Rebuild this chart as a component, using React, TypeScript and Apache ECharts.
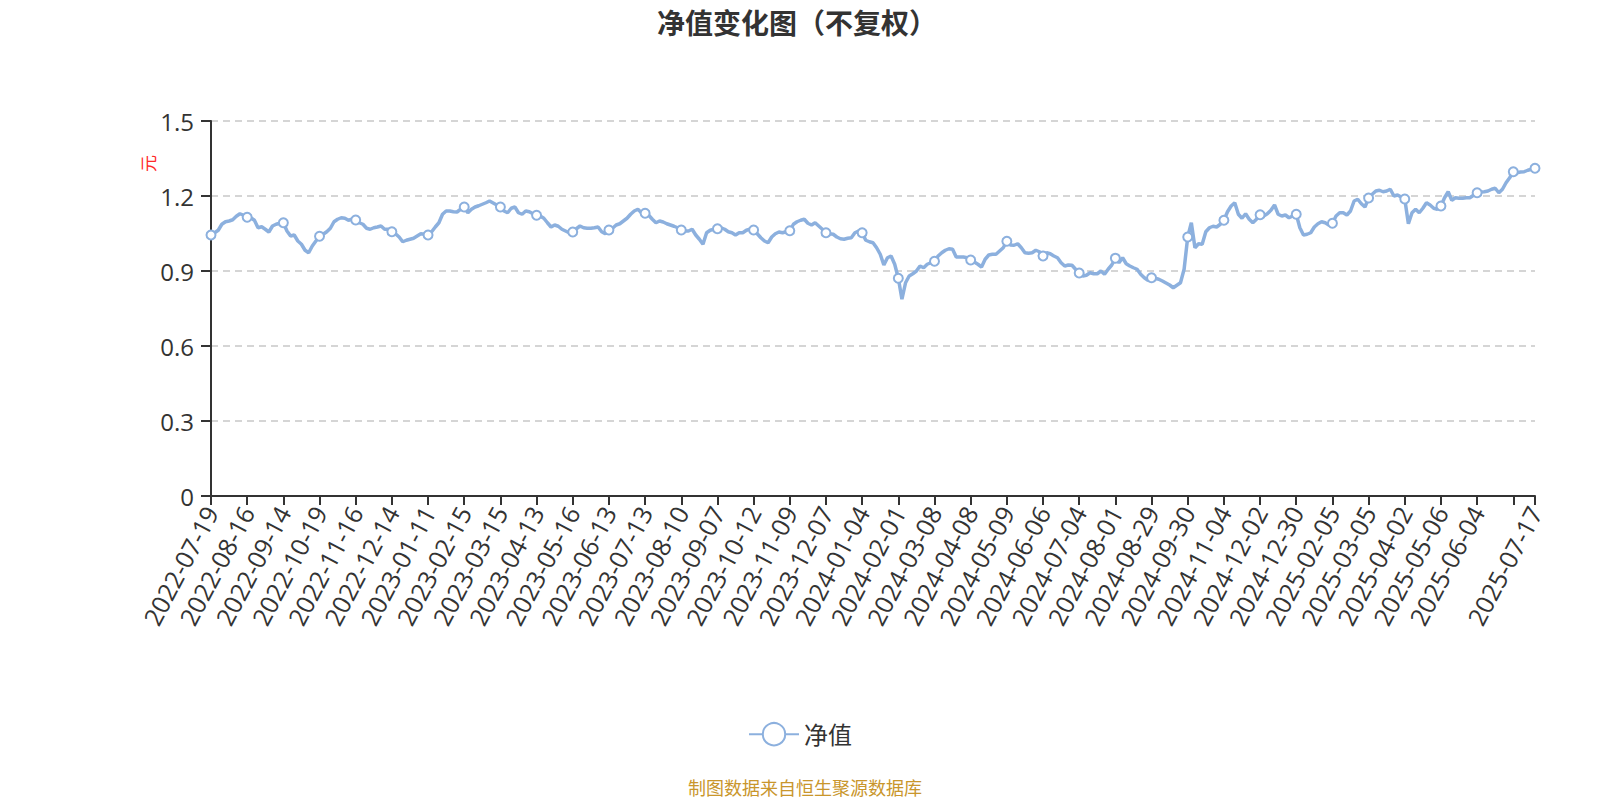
import React, { useEffect, useRef } from "react";
import * as echarts from "echarts";

const dateLabels: string[] = [
  "2022-07-19", "2022-08-16", "2022-09-14", "2022-10-19", "2022-11-16", "2022-12-14",
  "2023-01-11", "2023-02-15", "2023-03-15", "2023-04-13", "2023-05-16", "2023-06-13",
  "2023-07-13", "2023-08-10", "2023-09-07", "2023-10-12", "2023-11-09", "2023-12-07",
  "2024-01-04", "2024-02-01", "2024-03-08", "2024-04-08", "2024-05-09", "2024-06-06",
  "2024-07-04", "2024-08-01", "2024-08-29", "2024-09-30", "2024-11-04", "2024-12-02",
  "2024-12-30", "2025-02-05", "2025-03-05", "2025-04-02", "2025-05-06", "2025-06-04",
];
const lastDate = "2025-07-17";

const netValues: number[] = [
  1.044, 1.053, 1.063, 1.087, 1.097, 1.100, 1.105, 1.119, 1.129, 1.123,
  1.115, 1.113, 1.103, 1.073, 1.077, 1.067, 1.056, 1.080, 1.087, 1.091,
  1.093, 1.060, 1.040, 1.044, 1.020, 1.007, 0.983, 0.973, 1.000, 1.020,
  1.039, 1.047, 1.057, 1.071, 1.097, 1.107, 1.113, 1.111, 1.103, 1.107,
  1.104, 1.093, 1.087, 1.071, 1.067, 1.073, 1.076, 1.080, 1.067, 1.067,
  1.057, 1.049, 1.036, 1.017, 1.023, 1.027, 1.031, 1.040, 1.049, 1.047,
  1.044, 1.057, 1.076, 1.093, 1.127, 1.140, 1.140, 1.137, 1.136, 1.147,
  1.156, 1.133, 1.147, 1.156, 1.161, 1.167, 1.173, 1.180, 1.172, 1.164,
  1.156, 1.140, 1.133, 1.151, 1.156, 1.133, 1.127, 1.140, 1.137, 1.129,
  1.123, 1.120, 1.111, 1.093, 1.076, 1.084, 1.079, 1.067, 1.060, 1.053,
  1.056, 1.069, 1.080, 1.073, 1.071, 1.071, 1.073, 1.076, 1.057, 1.049,
  1.064, 1.071, 1.084, 1.089, 1.100, 1.111, 1.127, 1.140, 1.147, 1.133,
  1.131, 1.123, 1.107, 1.093, 1.100, 1.096, 1.089, 1.084, 1.079, 1.073,
  1.064, 1.060, 1.060, 1.067, 1.044, 1.027, 1.007, 1.053, 1.063, 1.067,
  1.069, 1.073, 1.067, 1.057, 1.053, 1.044, 1.053, 1.053, 1.063, 1.067,
  1.064, 1.049, 1.033, 1.020, 1.013, 1.036, 1.049, 1.056, 1.053, 1.057,
  1.061, 1.087, 1.097, 1.103, 1.107, 1.091, 1.084, 1.093, 1.080, 1.067,
  1.053, 1.049, 1.047, 1.036, 1.029, 1.027, 1.031, 1.033, 1.053, 1.060,
  1.053, 1.023, 1.017, 1.013, 0.993, 0.967, 0.924, 0.953, 0.960, 0.927,
  0.871, 0.787, 0.853, 0.880, 0.889, 0.900, 0.920, 0.913, 0.927, 0.933,
  0.939, 0.960, 0.973, 0.983, 0.989, 0.987, 0.956, 0.956, 0.956, 0.953,
  0.944, 0.936, 0.927, 0.916, 0.947, 0.964, 0.967, 0.967, 0.980, 0.993,
  1.019, 1.004, 1.003, 1.009, 0.993, 0.973, 0.971, 0.973, 0.983, 0.977,
  0.960, 0.973, 0.969, 0.960, 0.953, 0.933, 0.920, 0.924, 0.923, 0.907,
  0.892, 0.880, 0.883, 0.893, 0.889, 0.889, 0.900, 0.887, 0.907, 0.924,
  0.951, 0.933, 0.953, 0.929, 0.920, 0.913, 0.907, 0.887, 0.873, 0.863,
  0.873, 0.871, 0.867, 0.860, 0.852, 0.844, 0.833, 0.843, 0.853, 0.907,
  1.036, 1.093, 0.993, 1.009, 1.007, 1.057, 1.073, 1.079, 1.076, 1.087,
  1.103, 1.137, 1.160, 1.173, 1.127, 1.111, 1.129, 1.107, 1.093, 1.107,
  1.125, 1.120, 1.129, 1.143, 1.164, 1.127, 1.120, 1.124, 1.113, 1.120,
  1.127, 1.073, 1.044, 1.047, 1.053, 1.076, 1.089, 1.097, 1.093, 1.084,
  1.091, 1.120, 1.133, 1.133, 1.124, 1.140, 1.180, 1.187, 1.169, 1.156,
  1.192, 1.207, 1.220, 1.223, 1.217, 1.220, 1.227, 1.200, 1.204, 1.196,
  1.188, 1.089, 1.133, 1.147, 1.133, 1.151, 1.173, 1.164, 1.151, 1.147,
  1.160, 1.193, 1.217, 1.183, 1.193, 1.191, 1.191, 1.193, 1.193, 1.203,
  1.213, 1.216, 1.217, 1.220, 1.227, 1.231, 1.213, 1.227, 1.253, 1.273,
  1.297, 1.293, 1.296, 1.297, 1.303, 1.307, 1.311,
];

const LABEL_STEP = 10;
const FONT = "'Open Sans', 'Noto Sans CJK SC', sans-serif";

export default function App() {
  const ref = useRef<HTMLDivElement>(null);

  useEffect(() => {
    if (!ref.current) return;
    const chart = echarts.init(ref.current, undefined, { renderer: "svg" });
    const last = netValues.length - 1;
    const categories = netValues.map((_, i) => {
      if (i === last) return lastDate;
      if (i % LABEL_STEP === 0 && dateLabels[i / LABEL_STEP]) return dateLabels[i / LABEL_STEP];
      return "d" + i;
    });
    const seriesData = netValues.map((v, i) =>
      i % LABEL_STEP === 0 || i === last ? v : { value: v, symbol: "none" }
    );
    const showLabel = (i: number) =>
      i === last || (i % LABEL_STEP === 0 && i / LABEL_STEP < dateLabels.length);
    const showTick = (i: number) => i % LABEL_STEP === 0 || i === last;

    chart.setOption({
      animation: false,
      textStyle: { fontFamily: FONT },
      title: [
        {
          text: "净值变化图（不复权）",
          left: 792,
          top: 4,
          textAlign: "center",
          textStyle: { fontSize: 28, fontWeight: "bold", color: "#333", fontFamily: FONT },
        },
        {
          text: "制图数据来自恒生聚源数据库",
          left: 800,
          top: 774,
          textAlign: "center",
          textStyle: { fontSize: 18, fontWeight: "normal", color: "#c9962c", fontFamily: FONT },
        },
      ],
      graphic: [
        {
          type: "text",
          x: 140,
          y: 172,
          rotation: Math.PI / 2,
          style: { text: "元", fill: "#ff2a2a", fontSize: 17, fontFamily: FONT },
        },
      ],
      legend: {
        data: ["净值"],
        left: "center",
        top: 717,
        itemWidth: 50,
        itemHeight: 28,
        itemGap: 10,
        textStyle: { fontSize: 24, color: "#333", fontFamily: FONT },
      },
      grid: { left: 211, right: 65, top: 121, bottom: 304, containLabel: false },
      xAxis: {
        type: "category",
        boundaryGap: false,
        data: categories,
        axisLine: { lineStyle: { color: "#333", width: 2 } },
        axisTick: { interval: showTick, length: 9, lineStyle: { color: "#333", width: 2 } },
        axisLabel: {
          interval: showLabel,
          rotate: 62,
          fontSize: 25,
          color: "#333",
          margin: 12,
          fontFamily: FONT,
        },
        splitLine: { show: false },
      },
      yAxis: {
        type: "value",
        min: 0,
        max: 1.5,
        interval: 0.3,
        axisLine: { show: true, lineStyle: { color: "#333", width: 2 } },
        axisTick: { show: true, length: 10, lineStyle: { color: "#333", width: 2 } },
        axisLabel: {
          fontSize: 24,
          color: "#333",
          margin: 17,
          fontFamily: FONT,
          formatter: (v: number) => (v === 0 ? "0" : v.toFixed(1)),
        },
        splitLine: { show: true, lineStyle: { color: "#c8c8c8", type: [7, 5], width: 1.5 } },
      },
      series: [
        {
          name: "净值",
          type: "line",
          data: seriesData,
          symbol: "emptyCircle",
          symbolSize: 9,
          showSymbol: true,
          showAllSymbol: true,
          lineStyle: { color: "#8cb0de", width: 3.5 },
          itemStyle: { color: "#8cb0de", borderWidth: 2 },
        },
      ],
    });
    return () => chart.dispose();
  }, []);

  return (
    <div
      ref={ref}
      style={{ position: "absolute", left: 0, top: 0, width: 1600, height: 800 }}
    />
  );
}
